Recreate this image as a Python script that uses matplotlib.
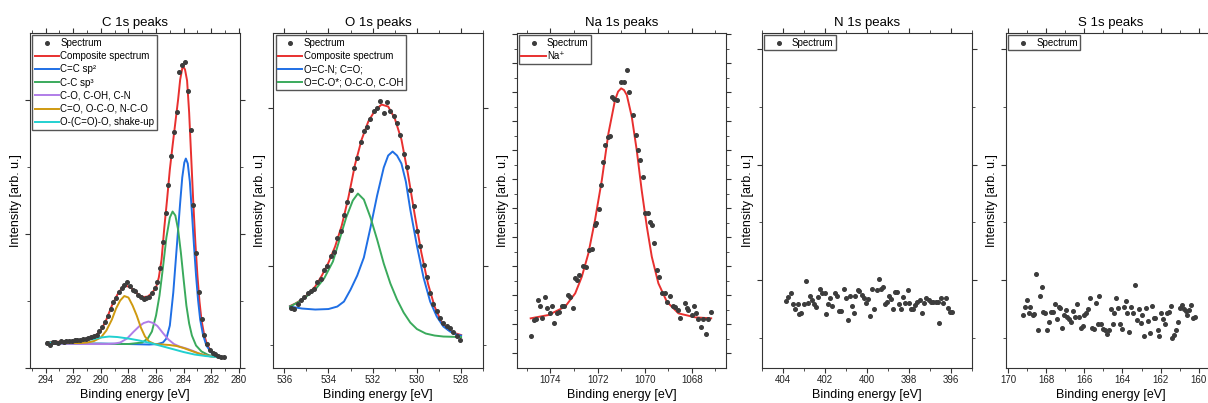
import matplotlib.pyplot as plt
from matplotlib.ticker import MultipleLocator, NullFormatter

plt.rcParams['font.family'] = ['Liberation Sans', 'DejaVu Sans']

### C 1s
c_be = [293.9, 293.7, 293.5, 293.3, 293.1, 292.9, 292.7, 292.5, 292.3, 292.1,
        291.9, 291.7, 291.5, 291.3, 291.1, 290.9, 290.7, 290.5, 290.3, 290.1,
        289.9, 289.7, 289.5, 289.3, 289.1, 288.9, 288.7, 288.5, 288.3, 288.1,
        287.9, 287.7, 287.5, 287.3, 287.1, 286.9, 286.7, 286.5, 286.3, 286.1,
        285.9, 285.7, 285.5, 285.3, 285.1, 284.9, 284.7, 284.5, 284.3, 284.1,
        283.9, 283.7, 283.5, 283.3, 283.1, 282.9, 282.7, 282.5, 282.3, 282.1,
        281.9, 281.7, 281.5, 281.3, 281.1]
c_counts = [24.5, 23, 25.5, 26, 25, 26.5, 25.5, 26.5, 27, 26.5,
            27.5, 27.5, 28, 28.5, 29, 30, 30.5, 31.5, 33, 37,
            40.5, 46, 52, 59, 66, 70, 76, 80, 83, 86,
            82, 78, 76.5, 73, 71, 69, 70, 70.5, 75, 80,
            86, 100, 126, 155, 183, 212, 236, 256, 296, 303,
            306, 277, 238, 163, 115, 76, 49, 33, 24, 18,
            15, 13.5, 12, 11, 10.5]

c_fit_be = [293.9, 293.0, 292.0, 291.0, 290.5, 290.0, 289.6, 289.2, 288.8, 288.5,
            288.3, 288.1, 287.8, 287.5, 287.2, 286.9, 286.6, 286.3, 286.0, 285.8,
            285.6, 285.4, 285.2, 285.0, 284.8, 284.6, 284.4, 284.25, 284.1, 284.05,
            283.9, 283.75, 283.6, 283.45, 283.3, 283.15, 283.0, 282.85, 282.7, 282.5,
            282.3, 282.0, 281.6, 281.1]
c_fit = [25.5, 25.8, 26.5, 28.5, 30.5, 37, 48, 62, 73, 79,
         81, 81.5, 79.5, 76, 72, 70.5, 71, 74.5, 80, 90,
         108, 140, 168, 198, 222, 245, 268, 288, 299, 301.5,
         298, 287, 255, 210, 165, 125, 92, 66, 47, 32,
         23, 16, 12, 10]

c_sp2_be = [293.9, 290.0, 288.0, 286.5, 285.9, 285.5, 285.25, 285.0, 284.75, 284.5,
            284.25, 284.1, 283.95, 283.84, 283.7, 283.55, 283.4, 283.25, 283.1, 282.95,
            282.8, 282.6, 282.35, 282.0, 281.6, 281.1]
c_sp2 = [24, 24, 23.5, 23, 23.5, 25, 29, 42, 75, 120,
         165, 190, 205, 209, 204, 186, 155, 122, 92, 67,
         48, 33, 22, 15, 11.5, 10]

c_sp3_be = [293.9, 288.0, 287.0, 286.6, 286.3, 286.0, 285.75, 285.5, 285.25, 285.0,
            284.8, 284.6, 284.4, 284.2, 284.0, 283.8, 283.6, 283.4, 283.1, 282.7,
            282.2, 281.6, 281.1]
c_sp3 = [24, 23.5, 25, 29, 36, 52, 72, 100, 130, 150,
         156, 152, 138, 115, 88, 62, 44, 32, 22, 16,
         12.5, 10.5, 10]

c_co_be = [293.9, 291.0, 289.5, 289.0, 288.6, 288.1, 287.65, 287.2, 286.9, 286.55,
           286.2, 285.9, 285.5, 285.1, 284.7, 284.3, 283.8, 283.3, 282.8, 282.2,
           281.1]
c_co = [24, 23.5, 23.5, 24, 25, 29, 35.5, 41.5, 44.5, 46,
        44.5, 41.5, 34.5, 28, 23.5, 21, 19, 16.5, 13.5, 11.5,
        10]

c_oco_be = [293.9, 291.5, 291.0, 290.5, 290.0, 289.6, 289.2, 288.9, 288.6, 288.3,
            288.0, 287.7, 287.4, 287.1, 286.8, 286.5, 286.1, 285.5, 285.0, 284.5,
            284.0, 283.5, 283.0, 282.5, 282.0, 281.1]
c_oco = [24.5, 24.5, 25, 26.5, 30, 37, 48, 59, 67, 71.5,
         70, 62, 52, 40, 31, 26, 23.5, 23, 22.5, 21.5,
         19.5, 17, 14.5, 12.5, 11, 10]

c_shake_be = [293.9, 292.5, 291.5, 290.5, 290.0, 289.4, 288.8, 288.0, 287.2, 286.4,
              285.6, 284.8, 284.0, 283.2, 282.4, 281.6, 281.1]
c_shake = [25, 25.5, 26.5, 28.5, 30, 31, 30.5, 29, 27, 24.5,
           21.5, 18.5, 15.5, 13, 11.5, 10.5, 10]

### O 1s
o_be = [535.70, 535.55, 535.40, 535.25, 535.10, 534.95, 534.80, 534.65, 534.50, 534.35,
        534.20, 534.05, 533.90, 533.75, 533.60, 533.45, 533.30, 533.15, 533.00, 532.85,
        532.70, 532.55, 532.40, 532.25, 532.10, 531.95, 531.80, 531.65, 531.50, 531.35,
        531.20, 531.05, 530.90, 530.75, 530.60, 530.45, 530.30, 530.15, 530.00, 529.85,
        529.70, 529.55, 529.40, 529.25, 529.10, 528.95, 528.80, 528.65, 528.50, 528.35,
        528.20, 528.05]
o_counts = [60, 59, 64, 67.5, 71, 74.5, 77, 79, 86, 89,
            98, 102, 112, 116, 130, 137, 153, 166, 178, 200,
            210, 226, 237, 241, 249, 257, 260, 267, 255, 266,
            257, 252, 245, 233, 214, 201, 178, 162, 137, 122,
            103, 91, 75, 64, 57, 50, 45, 42, 40, 36,
            32, 28]

o_fit_be = [535.74, 535.5, 535.2, 534.9, 534.6, 534.3, 534.0, 533.7, 533.4, 533.1,
            532.8, 532.5, 532.2, 531.9, 531.6, 531.3, 531.0, 530.7, 530.4, 530.1,
            529.8, 529.5, 529.2, 528.9, 528.6, 528.3, 528.0]
o_fit = [61.5, 64, 68, 74, 81, 92, 105, 121, 142, 170,
         203, 228, 246, 257, 263, 261, 249, 228, 193, 153,
         115, 84, 61, 46, 38, 34.5, 32.5]

o_ocn_be = [535.74, 535.2, 534.6, 534.0, 533.6, 533.3, 533.0, 532.7, 532.4, 532.1,
            531.8, 531.5, 531.3, 531.1, 530.9, 530.7, 530.5, 530.3, 530.0, 529.7,
            529.4, 529.1, 528.8, 528.5, 528.2, 528.0]
o_ocn = [61, 59, 58, 58.5, 61, 66, 78, 92, 110, 140,
         172, 200, 212, 216, 212, 204, 186, 158, 122, 90,
         66, 51, 41, 36, 33, 32]

o_oco_be = [535.74, 535.4, 535.0, 534.6, 534.2, 533.8, 533.5, 533.2, 532.9, 532.67,
            532.4, 532.1, 531.8, 531.5, 531.2, 530.9, 530.6, 530.3, 530.0, 529.6,
            529.2, 528.8, 528.0]
o_oco = [61, 65, 71, 78, 89, 106, 128, 150, 167, 174,
         168, 150, 128, 104, 84, 68, 55, 45, 38.5, 34,
         32, 31, 30.5]

### Na 1s
na_be = [1074.84, 1074.72, 1074.62, 1074.54, 1074.44, 1074.34, 1074.23, 1074.13, 1074.04, 1073.94,
         1073.83, 1073.73, 1073.63, 1073.52, 1073.41, 1073.27, 1073.17, 1073.05, 1072.95, 1072.87,
         1072.77, 1072.60, 1072.49, 1072.36, 1072.25, 1072.13, 1072.06, 1071.96, 1071.86, 1071.78,
         1071.68, 1071.57, 1071.47, 1071.37, 1071.29, 1071.19, 1071.0, 1070.90, 1070.76, 1070.65,
         1070.48, 1070.38, 1070.27, 1070.20, 1070.08, 1069.97, 1069.87, 1069.77, 1069.69, 1069.59,
         1069.49, 1069.38, 1069.28, 1069.16, 1069.06, 1068.92, 1068.82, 1068.71, 1068.60, 1068.50,
         1068.31, 1068.22, 1068.15, 1068.00, 1067.89, 1067.82, 1067.72, 1067.61, 1067.51, 1067.41,
         1067.32, 1067.18]
na_counts = [31.5, 47.5, 48.2, 67.5, 61.5, 49.2, 70.8, 59.2, 54.2, 61.5,
             44.2, 54.8, 55.8, 61.8, 61.5, 72.5, 70.2, 59.2, 89.2, 87.5,
             92.5, 101.5, 100.8, 117.5, 118.2, 142.5, 144.2, 158.2, 182.5, 205.8,
             222.5, 230.2, 231.5, 270.2, 268.2, 267.5, 285.8, 285.8, 297.5, 275.8,
             252.5, 232.5, 217.5, 207.5, 190.8, 154.8, 154.8, 145.8, 142.5, 124.2,
             97.5, 90.8, 74.8, 74.2, 65.8, 71.5, 61.5, 60.8, 57.5, 49.2,
             64.8, 59.2, 57.5, 52.5, 61.5, 54.2, 48.2, 40.8, 48.2, 33.5,
             48.2, 55.8]

na_fit_be = [1074.84, 1074.09, 1073.38, 1072.95, 1072.67, 1072.39, 1072.11, 1071.82, 1071.54, 1071.26,
             1071.13, 1071.0, 1070.88, 1070.76, 1070.55, 1070.34, 1070.13, 1069.91, 1069.70, 1069.42,
             1069.06, 1068.57, 1067.86, 1067.18]
na_fit = [49.2, 52.5, 60.8, 74.2, 90.8, 114.2, 147.5, 187.5, 234.2, 267.5,
          276, 279.2, 277.5, 272.5, 250.8, 217.5, 177.5, 140.8, 110.8, 84.2,
          65.8, 54.2, 50.2, 49.2]

### N 1s
n_be = [403.85, 403.74, 403.61, 403.53, 403.42, 403.29, 403.21, 403.14, 402.99, 402.90,
        402.79, 402.71, 402.60, 402.50, 402.39, 402.31, 402.20, 402.11, 402.00, 401.92,
        401.82, 401.73, 401.64, 401.52, 401.41, 401.32, 401.21, 401.10, 401.00, 400.89,
        400.81, 400.70, 400.61, 400.53, 400.42, 400.34, 400.23, 400.13, 400.02, 399.93,
        399.82, 399.74, 399.63, 399.52, 399.42, 399.31, 399.23, 399.12, 399.04, 398.95,
        398.84, 398.74, 398.65, 398.55, 398.44, 398.35, 398.25, 398.16, 398.05, 397.97,
        397.88, 397.78, 397.69, 397.58, 397.46, 397.34, 397.26, 397.15, 397.05, 396.94,
        396.83, 396.71, 396.60, 396.55, 396.44, 396.34, 396.23, 396.12, 396.03, 395.95]
n_counts = [66.8, 70.8, 74.8, 63.5, 58.2, 63.5, 53.5, 54.2, 63.5, 86.5,
            64.2, 71.5, 67.5, 63.2, 60.8, 70.8, 78.2, 74.2, 74.8, 53.2,
            63.5, 69.2, 61.5, 74.2, 71.5, 56.8, 56.8, 78.2, 69.2, 47.5,
            71.5, 61.5, 54.8, 71.5, 77.5, 76.8, 72.5, 69.8, 64.8, 68.8,
            51.5, 78.8, 58.8, 77.5, 88.2, 78.8, 80.2, 63.5, 65.5, 71.5,
            68.8, 58.8, 75.5, 75.5, 63.5, 58.8, 70.8, 64.8, 77.5, 64.2,
            58.8, 58.8, 62.2, 65.8, 67.5, 54.8, 64.8, 69.2, 67.5, 65.8,
            65.8, 65.8, 65.8, 44.2, 69.2, 64.8, 69.8, 59.2, 55.8, 55.8]

### S 1s
s_be = [169.21, 169.12, 169.0, 168.91, 168.83, 168.71, 168.62, 168.52, 168.44, 168.33,
        168.23, 168.14, 168.04, 167.94, 167.84, 167.73, 167.63, 167.55, 167.45, 167.34,
        167.26, 167.15, 167.07, 166.97, 166.88, 166.78, 166.68, 166.57, 166.47, 166.39,
        166.28, 166.18, 166.09, 165.99, 165.89, 165.79, 165.70, 165.60, 165.50, 165.39,
        165.29, 165.21, 165.10, 165.02, 164.91, 164.81, 164.73, 164.62, 164.52, 164.42,
        164.33, 164.23, 164.13, 164.04, 163.94, 163.84, 163.75, 163.65, 163.55, 163.44,
        163.36, 163.26, 163.15, 163.05, 162.95, 162.85, 162.74, 162.66, 162.56, 162.45,
        162.37, 162.27, 162.16, 162.07, 161.97, 161.87, 161.79, 161.68, 161.58, 161.48,
        161.39, 161.29, 161.19, 161.10, 161.0, 160.90, 160.80, 160.69, 160.61, 160.50,
        160.40, 160.32, 160.21]
s_counts = [52.5, 60.2, 67.5, 54.2, 60.8, 52.5, 53.5, 93.5, 37.5, 71.8,
            80.8, 55.2, 54.2, 37.5, 45.2, 55.8, 55.8, 63.5, 48.2, 60.2,
            59.2, 39.8, 52.5, 57.5, 50.8, 48.2, 45.2, 56.8, 50.2, 63.5,
            50.2, 39.2, 41.5, 52.5, 54.2, 58.2, 69.2, 39.2, 38.2, 64.8,
            43.5, 71.5, 43.5, 38.2, 37.5, 33.5, 37.5, 58.2, 43.5, 54.2,
            69.8, 59.2, 43.5, 38.2, 60.2, 66.5, 54.8, 35.5, 60.2, 54.2,
            82.5, 47.5, 58.2, 44.8, 52.5, 31.5, 59.2, 46.8, 34.8, 61.5,
            49.2, 49.2, 37.5, 31.5, 54.2, 48.2, 43.5, 54.2, 55.8, 61.5,
            29.2, 32.5, 37.5, 45.8, 59.2, 62.5, 58.2, 56.8, 52.5, 57.5,
            62.5, 49.2, 50.8]

DOT = '#3c3c3c'
RED = '#e8302f'
BLUE = '#1f6fe5'
GREEN = '#3aaa5c'
PURPLE = '#b07de8'
GOLD = '#cf9a10'
CYAN = '#22d0d0'
LW = 1.4

fig = plt.figure(figsize=(12.08, 4.03), dpi=100)
lefts = [0.0248, 0.2262, 0.4276, 0.6305, 0.8328]
axs = [fig.add_axes([l, 0.088, 0.1738, 0.830]) for l in lefts]


def style(ax, title, xlim, ymaj, ymin, yoff):
    ax.set_title(title, fontsize=9.5, pad=5)
    ax.set_xlim(*xlim)
    ax.set_ylim(0, 334.5)
    ax.xaxis.set_major_locator(MultipleLocator(2))
    ax.xaxis.set_minor_locator(MultipleLocator(1))
    ax.yaxis.set_major_locator(MultipleLocator(ymaj, offset=yoff))
    ax.yaxis.set_minor_locator(MultipleLocator(ymin, offset=yoff))
    ax.yaxis.set_major_formatter(NullFormatter())
    ax.tick_params(which='both', direction='out', top=True, right=True,
                   labelsize=7, pad=2, color='#333333', labelcolor='#222222')
    ax.tick_params(which='major', length=3.5)
    ax.tick_params(which='minor', length=2)
    for sp in ax.spines.values():
        sp.set_color('#333333')
    ax.set_xlabel('Binding energy [eV]', fontsize=9, labelpad=3)
    ax.set_ylabel('Intensity [arb. u.]', fontsize=9, labelpad=0)


def legend(ax, fs):
    ax.legend(loc='upper left', fontsize=fs, frameon=True, fancybox=False,
              edgecolor='#555555', framealpha=1, borderpad=0.25, labelspacing=0.33,
              handlelength=2.5, handletextpad=0.12, borderaxespad=0.25, numpoints=1)


### C 1s peaks
ax = axs[0]
ax.plot(c_be, c_counts, 'o', ms=2.6, color=DOT, label='Spectrum', zorder=3)
ax.plot(c_fit_be, c_fit, color=RED, lw=LW, label='Composite spectrum')
ax.plot(c_sp2_be, c_sp2, color=BLUE, lw=LW, label='C=C sp²')
ax.plot(c_sp3_be, c_sp3, color=GREEN, lw=LW, label='C-C sp³')
ax.plot(c_co_be, c_co, color=PURPLE, lw=LW, label='C-O, C-OH, C-N')
ax.plot(c_oco_be, c_oco, color=GOLD, lw=LW, label='C=O, O-C-O, N-C-O')
ax.plot(c_shake_be, c_shake, color=CYAN, lw=LW, label='O-(C=O)-O, shake-up')
style(ax, 'C 1s peaks', (295.14, 279.92), 134, 67, 0)
legend(ax, 7)

### O 1s peaks
ax = axs[1]
ax.plot(o_be, o_counts, 'o', ms=2.6, color=DOT, label='Spectrum', zorder=3)
ax.plot(o_fit_be, o_fit, color=RED, lw=LW, label='Composite spectrum')
ax.plot(o_ocn_be, o_ocn, color=BLUE, lw=LW, label='O=C-N; C=O;')
ax.plot(o_oco_be, o_oco, color=GREEN, lw=LW, label='O=C-O*; O-C-O, C-OH')
style(ax, 'O 1s peaks', (536.5, 527.0), 158, 79, 101.8)
legend(ax, 7)

### Na 1s peaks
ax = axs[2]
ax.plot(na_be, na_counts, 'o', ms=2.6, color=DOT, label='Spectrum', zorder=3)
ax.plot(na_fit_be, na_fit, color=RED, lw=LW, label='Na⁺')
style(ax, 'Na 1s peaks', (1075.44, 1066.53), 29, 14.5, 14.2)
legend(ax, 7)

### N 1s peaks
ax = axs[3]
ax.plot(n_be, n_counts, 'o', ms=2.6, color=DOT, label='Spectrum', zorder=3)
style(ax, 'N 1s peaks', (405.0, 395.0), 115.7, 57.85, 87.2)
legend(ax, 7)

### S 1s peaks
ax = axs[4]
ax.plot(s_be, s_counts, 'o', ms=2.6, color=DOT, label='Spectrum', zorder=3)
style(ax, 'S 1s peaks', (170.1, 159.1), 115.7, 57.85, 87.2)
legend(ax, 7)

plt.savefig('out.png', dpi=100)
